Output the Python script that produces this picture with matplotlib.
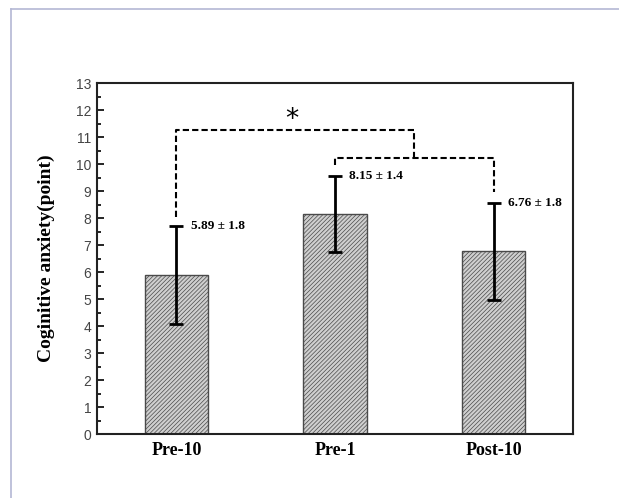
import matplotlib
matplotlib.use("Agg")
import matplotlib.pyplot as plt
from matplotlib.lines import Line2D
from matplotlib.ticker import MultipleLocator

# Data
groups = ["Pre-10", "Pre-1", "Post-10"]
means = [5.89, 8.15, 6.76]
sds = [1.8, 1.4, 1.8]
value_labels = ["5.89 \u00b1 1.8", "8.15 \u00b1 1.4", "6.76 \u00b1 1.8"]

plt.rcParams["hatch.color"] = "#4a4a4a"
plt.rcParams["hatch.linewidth"] = 0.5

fig = plt.figure(figsize=(6.19, 4.98), dpi=100)
ax = fig.add_axes([0.1567, 0.1285, 0.769, 0.7048])

x = list(range(len(groups)))
ax.bar(x, means, width=0.4, facecolor="#cfcfcf", edgecolor="#4a4a4a",
       linewidth=1.0, hatch="////////", zorder=2)
ax.errorbar(x, means, yerr=sds, fmt="none", ecolor="black", elinewidth=2,
            capsize=5, capthick=2, zorder=3)

# value labels next to the upper caps
for xi, m, s, lab in zip(x, means, sds, value_labels):
    ax.text(xi + 0.09, m + s, lab, fontsize=9.5, fontweight="bold",
            family="Liberation Serif", va="center", ha="left")

# significance brackets
dash = dict(color="black", lw=1.5, ls=(0, (3, 1.5)), zorder=4)
ax.plot([1, 1, 2, 2], [9.95, 10.22, 10.22, 8.95], **dash)
ax.plot([0, 0, 1.5, 1.5], [8.05, 11.26, 11.26, 10.22], **dash)
ax.text(0.73, 11.15, "*", fontsize=19, ha="center", va="bottom",
        family="DejaVu Sans")

ax.set_xlim(-0.5, 2.5)
ax.set_ylim(0, 13)
ax.yaxis.set_major_locator(MultipleLocator(1))
ax.yaxis.set_minor_locator(MultipleLocator(0.5))
ax.tick_params(axis="y", which="both", direction="in", labelsize=10,
               labelcolor="#444444", width=1.2, pad=4)
ax.tick_params(axis="y", which="major", length=5)
ax.tick_params(axis="y", which="minor", length=3)
ax.tick_params(axis="x", length=0, pad=6)
ax.set_xticks(x)
ax.set_xticklabels(groups, fontsize=13, fontweight="bold",
                   family="Liberation Serif")
for lab in ax.get_yticklabels():
    lab.set_family("Liberation Sans")

ax.set_ylabel("Coginitive anxiety(point)", fontsize=14, fontweight="bold",
              family="Liberation Serif", labelpad=15)

for sp in ax.spines.values():
    sp.set_linewidth(1.5)
    sp.set_color("#222222")

# light frame at top and left of the image
fx = 11 / 619
fy = 1 - 9.5 / 498
fig.add_artist(Line2D([fx, 1], [fy, fy], color="#b4b8d4", lw=1.2))
fig.add_artist(Line2D([fx, fx], [0, fy], color="#b4b8d4", lw=1.2))

fig.savefig("out.png", dpi=100)
